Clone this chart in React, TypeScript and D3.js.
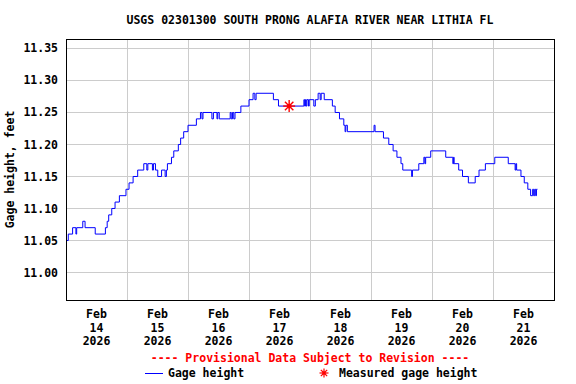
import React from 'react';
import * as d3 from 'd3';

const TITLE = 'USGS 02301300 SOUTH PRONG ALAFIA RIVER NEAR LITHIA FL';
const Y_LABEL = 'Gage height, feet';
const Y_TICKS = [11.0, 11.05, 11.1, 11.15, 11.2, 11.25, 11.3, 11.35];
const DAY_LABELS = ['14', '15', '16', '17', '18', '19', '20', '21'];
const MONTH = 'Feb';
const YEAR = '2026';

// hours since Feb 14 00:00 where the reading changes, and the new reading (ft)
const HOURS = [
  0, 0.9, 2.6, 3.9, 4.2, 6.6, 7.5, 11.5, 15.5, 16.2, 16.8, 18.0, 19.3, 21.0, 23.6, 24.8,
  26.4, 28.2, 30.6, 31.8, 32.2, 34.0, 34.4, 35.2, 36.1, 37.6, 39.0, 39.5, 39.9, 41.5, 42.4,
  44.2, 45.1, 46.3, 48.0, 51.3, 52.9, 53.5, 53.9, 57.4, 58.0, 59.4, 59.7, 60.3, 64.6, 65.0,
  65.5, 66.0, 66.5, 68.8, 72.0, 73.6, 74.3, 74.8, 81.6, 83.6, 93.6, 93.9, 94.2, 94.5, 94.8,
  95.4, 95.7, 97.5, 98.1, 99.2, 100.0, 100.4, 101.6, 104.8, 105.9, 107.6, 109.3, 109.8, 110.1,
  110.7, 121.2, 121.6, 124.9, 127.0, 128.7, 130.2, 131.8, 132.5, 136.0, 136.3, 138.8, 140.8,
  141.2, 141.5, 143.5, 149.4, 152.2, 152.5, 152.7, 154.5, 156.0, 158.3, 161.0, 162.5, 165.0,
  168.7, 174.0, 176.7, 177.0, 177.3, 179.0, 180.3, 181.7, 182.8, 183.6, 184.0, 184.4, 184.8,
  185.1, 185.5,
];
const GAGE = [
  11.05, 11.06, 11.07, 11.06, 11.07, 11.08, 11.07, 11.06, 11.07, 11.08, 11.09, 11.10, 11.11, 11.12, 11.13, 11.14,
  11.15, 11.16, 11.17, 11.16, 11.17, 11.16, 11.17, 11.16, 11.15, 11.16, 11.15, 11.16, 11.17, 11.18, 11.19,
  11.20, 11.21, 11.22, 11.23, 11.24, 11.25, 11.24, 11.25, 11.24, 11.25, 11.24, 11.25, 11.24, 11.25, 11.24,
  11.25, 11.24, 11.25, 11.26, 11.27, 11.28, 11.27, 11.28, 11.27, 11.26, 11.27, 11.26, 11.27, 11.26, 11.27,
  11.26, 11.27, 11.26, 11.27, 11.28, 11.27, 11.28, 11.27, 11.26, 11.25, 11.24, 11.23, 11.22, 11.23,
  11.22, 11.23, 11.22, 11.21, 11.20, 11.19, 11.18, 11.17, 11.16, 11.15, 11.16, 11.17, 11.18,
  11.17, 11.18, 11.19, 11.18, 11.17, 11.18, 11.17, 11.16, 11.15, 11.14, 11.15, 11.16, 11.17,
  11.18, 11.17, 11.16, 11.17, 11.16, 11.15, 11.14, 11.13, 11.12, 11.13, 11.12, 11.13, 11.12,
  11.13, 11.13,
];

const MEASURED_HOURS = [87.8];
const MEASURED = [11.26];

const W = 576;
const H = 384;
const left = 66;
const right = 554;
const top = 39;
const bottom = 300;

const font = "'DejaVu Sans Mono', monospace";

const start = new Date(Date.UTC(2026, 1, 14));
const atHour = (h: number) => new Date(start.getTime() + h * 3600 * 1000);

const Star = ({ x, y, r, w }: { x: number; y: number; r: number; w: number }) => {
  const arms = d3.range(8).map(i => (i * Math.PI) / 4);
  return (
    <g transform={`translate(${x},${y})`} stroke="#ff0000" strokeWidth={w}>
      {arms.map((a, i) => (
        <line key={i} x1={0} y1={0} x2={r * Math.cos(a)} y2={r * Math.sin(a)} />
      ))}
      <circle r={r * 0.4} fill="#ff0000" stroke="none" />
    </g>
  );
};

export default function App() {
  const x = d3.scaleUtc().domain([start, atHour(192)]).range([left, right]);
  const y = d3.scaleLinear().domain([10.957, 11.3648]).range([bottom, top]);

  const data = HOURS.map((h, i) => ({ t: atHour(h), v: GAGE[i] }));
  const line = d3.line<{ t: Date; v: number }>()
    .x(d => x(d.t))
    .y(d => y(d.v))
    .curve(d3.curveStepAfter);

  const midnights = d3.range(1, 8).map(d => atHour(d * 24));

  return (
    <svg width={W} height={H} style={{ position: 'absolute', left: 0, top: 0, background: '#fff' }}
      fontFamily={font} fontWeight="bold" fontSize={11.5}>
      <rect x={0} y={0} width={W} height={H} fill="#fff" />
      <text x={(left + right) / 2} y={24} textAnchor="middle" fill="#000">{TITLE}</text>

      {Y_TICKS.map(t => (
        <line key={'gy' + t} x1={left} x2={right} y1={Math.round(y(t)) + 0.5} y2={Math.round(y(t)) + 0.5}
          stroke="#cccccc" strokeWidth={1} />
      ))}
      {midnights.map((m, i) => (
        <line key={'gx' + i} x1={Math.round(x(m)) + 0.5} x2={Math.round(x(m)) + 0.5} y1={top} y2={bottom}
          stroke="#cccccc" strokeWidth={1} />
      ))}

      <path d={line(data) ?? ''} fill="none" stroke="#0000ff" strokeWidth={1} />

      {MEASURED.map((v, i) => (
        <Star key={i} x={x(atHour(MEASURED_HOURS[i]))} y={y(v)} r={6} w={1.4} />
      ))}

      <rect x={left + 0.5} y={top + 0.5} width={right - left} height={bottom - top}
        fill="none" stroke="#000" strokeWidth={1} />

      {Y_TICKS.map(t => (
        <text key={'ly' + t} x={58} y={y(t)} dy="0.35em" textAnchor="end" fill="#000">
          {t.toFixed(2)}
        </text>
      ))}
      <text transform={`translate(14,${(top + bottom) / 2}) rotate(-90)`} textAnchor="middle" fill="#000">
        {Y_LABEL}
      </text>

      {DAY_LABELS.map((d, i) => {
        const cx = x(atHour(i * 24 + 12));
        return (
          <g key={'lx' + d} fill="#000">
            <text x={cx} y={318} textAnchor="middle">{MONTH}</text>
            <text x={cx} y={331.5} textAnchor="middle">{d}</text>
            <text x={cx} y={345} textAnchor="middle">{YEAR}</text>
          </g>
        );
      })}

      <text x={(left + right) / 2} y={362} textAnchor="middle" fill="#ff0000">
        ---- Provisional Data Subject to Revision ----
      </text>

      <line x1={145} x2={163} y1={373.5} y2={373.5} stroke="#0000ff" strokeWidth={1} />
      <text x={168} y={377} fill="#000">Gage height</text>
      <Star x={324} y={373} r={4.5} w={1.2} />
      <text x={339} y={377} fill="#000">Measured gage height</text>
    </svg>
  );
}
